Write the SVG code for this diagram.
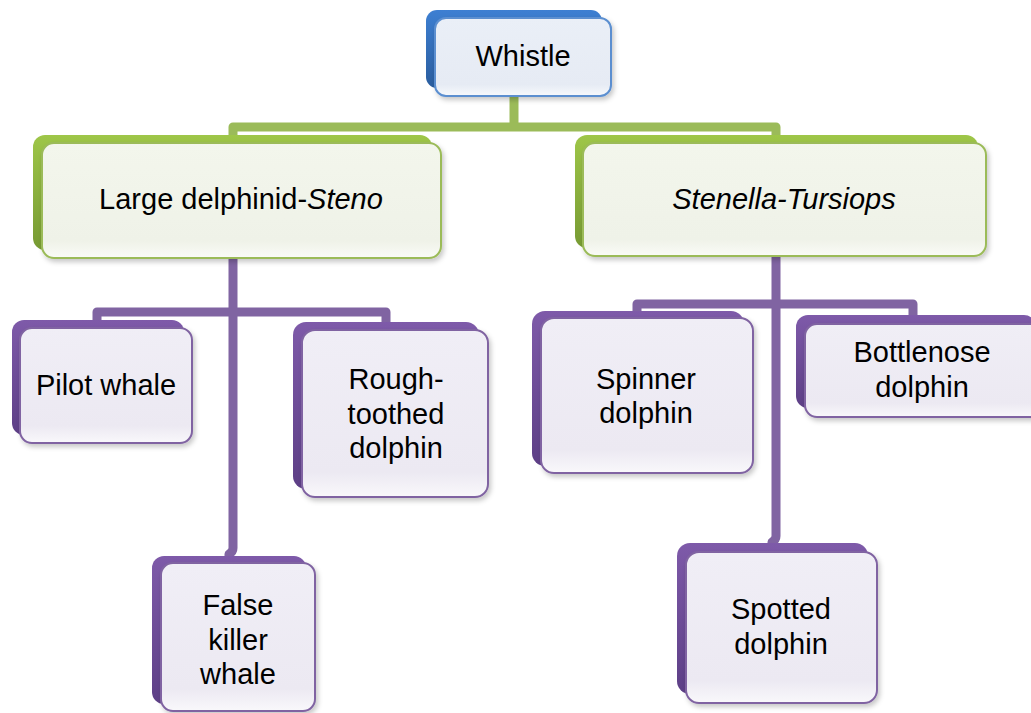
<svg xmlns="http://www.w3.org/2000/svg" width="1031" height="713" viewBox="0 0 1031 713">
<style>
text{font-family:"Liberation Sans",Arial,sans-serif;font-size:29px;fill:#000;text-anchor:middle}
.it{font-style:italic}
.cg{fill:none;stroke:#9bbb59;stroke-width:9;stroke-linejoin:round;stroke-linecap:butt}
.cp{fill:none;stroke:#8064a2;stroke-width:9;stroke-linejoin:round;stroke-linecap:butt}
.bb{fill:url(#gb)}
.bg{fill:url(#gg)}
.bp{fill:url(#gp)}
.fb{fill:url(#fbl);stroke:#5b8fd0;stroke-width:2;filter:url(#sh)}
.fg{fill:url(#fgr);stroke:#9bbb59;stroke-width:2;filter:url(#sh)}
.fp{fill:url(#fpu);stroke:#8064a2;stroke-width:2;filter:url(#sh)}
</style>
<defs>
<linearGradient id="gb" x1="0" y1="0" x2="0" y2="1"><stop offset="0" stop-color="#3d7fd2"/><stop offset="1" stop-color="#2a5d9e"/></linearGradient>
<linearGradient id="gg" x1="0" y1="0" x2="0" y2="1"><stop offset="0" stop-color="#9ec648"/><stop offset="1" stop-color="#779a33"/></linearGradient>
<linearGradient id="gp" x1="0" y1="0" x2="0" y2="1"><stop offset="0" stop-color="#7e5aa9"/><stop offset="1" stop-color="#5d3f86"/></linearGradient>
<linearGradient id="fbl" x1="0" y1="0" x2="0" y2="1"><stop offset="0" stop-color="#eaeff7"/><stop offset="0.85" stop-color="#e6ebf4"/><stop offset="1" stop-color="#f7f9fc"/></linearGradient>
<linearGradient id="fgr" x1="0" y1="0" x2="0" y2="1"><stop offset="0" stop-color="#f3f6ec"/><stop offset="0.85" stop-color="#eff2e8"/><stop offset="1" stop-color="#fafbf7"/></linearGradient>
<linearGradient id="fpu" x1="0" y1="0" x2="0" y2="1"><stop offset="0" stop-color="#f0eef6"/><stop offset="0.85" stop-color="#ece9f2"/><stop offset="1" stop-color="#f9f8fb"/></linearGradient>
<filter id="sh" x="-10%" y="-10%" width="125%" height="130%"><feDropShadow dx="2" dy="3" stdDeviation="2.5" flood-color="#000" flood-opacity="0.22"/></filter>
</defs>
<g id="connectors">
<path class="cg" d="M514 97 V127"/>
<path class="cg" d="M233 139 V127 H776 V139"/>
<path class="cp" d="M233 258 V548 Q233 552 229 554 V560"/>
<path class="cp" d="M97 324 V312 H386 V326"/>
<path class="cp" d="M776 256 V536 Q776 540 772 542 V548"/>
<path class="cp" d="M637 314 V304 H913 V318"/>
</g>
<g id="whistle">
<rect class="bb" x="426" y="10" width="176" height="78" rx="11"/>
<rect class="fb" x="435" y="18" width="176" height="78" rx="11"/>
<text x="523" y="66">Whistle</text>
</g>
<g id="large-delphinid">
<rect class="bg" x="33" y="135" width="399" height="115" rx="12"/>
<rect class="fg" x="42" y="143" width="399" height="115" rx="12"/>
<text x="241" y="209">Large delphinid-<tspan class="it">Steno</tspan></text>
</g>
<g id="stenella-tursiops">
<rect class="bg" x="575" y="135" width="403" height="113" rx="12"/>
<rect class="fg" x="583" y="143" width="403" height="113" rx="12"/>
<text x="784" y="209" class="it">Stenella-Tursiops</text>
</g>
<g id="pilot-whale">
<rect class="bp" x="12" y="320" width="172" height="115" rx="12"/>
<rect class="fp" x="20" y="328" width="172" height="115" rx="12"/>
<text x="106" y="395">Pilot whale</text>
</g>
<g id="rough-toothed">
<rect class="bp" x="293" y="322" width="186" height="167" rx="13"/>
<rect class="fp" x="302" y="330" width="186" height="167" rx="13"/>
<text x="396" y="389">Rough-</text>
<text x="396" y="424">toothed</text>
<text x="396" y="458">dolphin</text>
</g>
<g id="false-killer-whale">
<rect class="bp" x="152" y="556" width="154" height="148" rx="12"/>
<rect class="fp" x="161" y="563" width="154" height="148" rx="12"/>
<text x="238" y="615">False</text>
<text x="238" y="650">killer</text>
<text x="238" y="684">whale</text>
</g>
<g id="spinner-dolphin">
<rect class="bp" x="532" y="311" width="212" height="155" rx="13"/>
<rect class="fp" x="541" y="318" width="212" height="155" rx="13"/>
<text x="646" y="389">Spinner</text>
<text x="646" y="423">dolphin</text>
</g>
<g id="bottlenose-dolphin">
<rect class="bp" x="796" y="315" width="240" height="93" rx="12"/>
<rect class="fp" x="805" y="324" width="240" height="93" rx="12"/>
<text x="922" y="362">Bottlenose</text>
<text x="922" y="397">dolphin</text>
</g>
<g id="spotted-dolphin">
<rect class="bp" x="677" y="543" width="191" height="151" rx="13"/>
<rect class="fp" x="686" y="552" width="191" height="151" rx="13"/>
<text x="781" y="619">Spotted</text>
<text x="781" y="654">dolphin</text>
</g>
</svg>
